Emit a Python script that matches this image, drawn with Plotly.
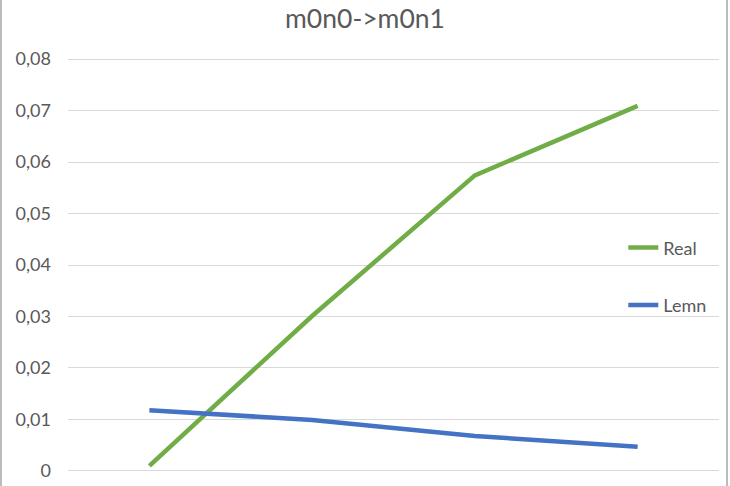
import plotly.graph_objects as go

# data
steps = [1, 2, 3, 4]
real = [0.0010, 0.0301, 0.0574, 0.0709]
lemn = [0.0118, 0.0099, 0.0068, 0.0047]

y_ticks = [0, 0.01, 0.02, 0.03, 0.04, 0.05, 0.06, 0.07, 0.08]
y_labels = ["0", "0,01", "0,02", "0,03", "0,04", "0,05", "0,06", "0,07", "0,08"]

GREEN = "#70AD47"
BLUE = "#4472C4"
TEXT = "#595959"
GRID = "#D9D9D9"

fig = go.Figure()
fig.add_trace(go.Scatter(x=steps, y=real, name="Real", mode="lines",
                         line=dict(color=GREEN, width=4.5), legendgroup="a"))
fig.add_trace(go.Scatter(x=steps, y=lemn, name="Lemn", mode="lines",
                         line=dict(color=BLUE, width=4.5), legendgroup="b"))

fig.update_layout(
    width=730, height=486,
    margin=dict(l=68, r=11, t=55, b=11, autoexpand=False),
    paper_bgcolor="white", plot_bgcolor="white",
    font=dict(family="Lato, Open Sans, sans-serif", color=TEXT, size=18),
    title=dict(text="m0n0->m0n1", x=0.5, xref="container", xanchor="center",
               y=0.961, yanchor="middle", font=dict(size=26.5, color=TEXT)),
    xaxis=dict(range=[0.5, 4.5], showticklabels=False, showgrid=False,
               zeroline=False, showline=False, ticks="", automargin=False),
    yaxis=dict(range=[-0.00078, 0.08078], tickvals=y_ticks, ticktext=y_labels,
               showgrid=True, gridcolor=GRID, gridwidth=1.3, zeroline=False,
               showline=False, ticks="", ticklabelstandoff=16, automargin=False,
               tickfont=dict(size=18)),
    legend=dict(x=0.853, y=0.473, xanchor="left", yanchor="middle",
                bgcolor="rgba(0,0,0,0)", tracegroupgap=31,
                font=dict(size=18, color=TEXT)),
    showlegend=True,
)

# chart border (left and right edges visible in the crop)
for xp in [-67 / 651, 659 / 651]:
    fig.add_shape(type="line", xref="paper", yref="paper",
                  x0=xp, x1=xp, y0=-0.1, y1=1.2,
                  line=dict(color="#A6A6A6", width=1.5))

# page body has a default 8px margin; drop it so the chart sits at the corner
fig.write_html("out.html", config={"displayModeBar": False},
               post_script="document.body.style.margin='0';")
